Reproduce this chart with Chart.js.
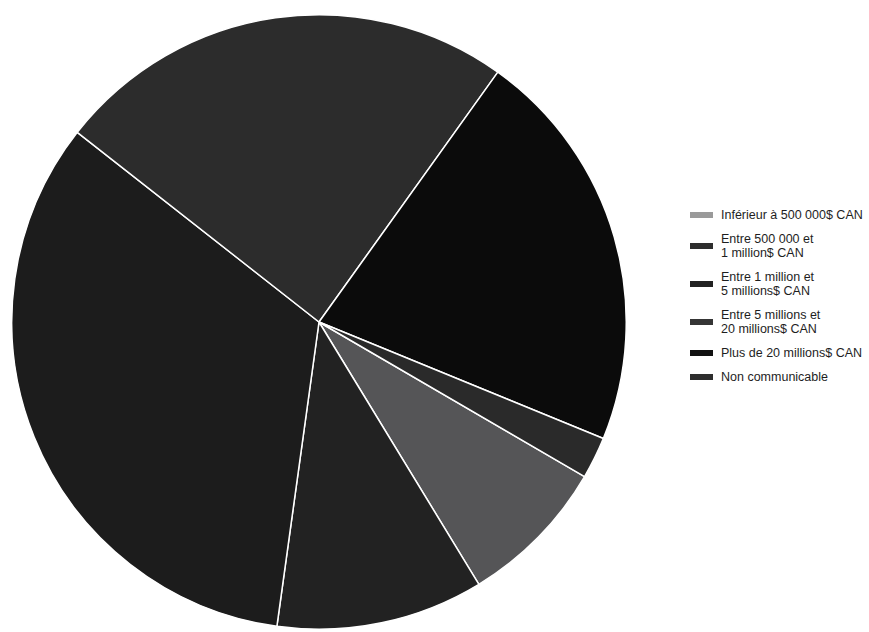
<!DOCTYPE html>
<html>
<head>
<meta charset="utf-8">
<script src="https://cdn.jsdelivr.net/npm/chart.js@4/dist/chart.umd.min.js"></script>
<style>
    html, body { margin: 0; padding: 0; background: #fff; }
    body { width: 869px; height: 632px; position: relative; overflow: hidden; font-family: "Liberation Sans", Arial, sans-serif; }
    #pieBox { position: absolute; left: 11px; top: 14px; width: 616px; height: 616px; }
    #legend { position: absolute; left: 690px; top: 208px; color: #1e1e1e; font-size: 12.5px; line-height: 14px; }
    .item { display: flex; align-items: center; margin-bottom: 10px; }
    .swatch { width: 23px; height: 6px; margin-right: 8px; flex: none; }
</style>
</head>
<body>
<div id="pieBox"><canvas id="pieChart"></canvas></div>
<div id="legend"></div>

<script>
// Categories (legend order, drawn clockwise)
const categories = [
    ['Inférieur à 500 000$ CAN'],
    ['Entre 500 000 et', '1 million$ CAN'],
    ['Entre 1 million et', '5 millions$ CAN'],
    ['Entre 5 millions et', '20 millions$ CAN'],
    ['Plus de 20 millions$ CAN'],
    ['Non communicable']
];
// Share of respondents (%)
const shares = [7.9, 10.9, 33.4, 24.3, 21.3, 2.2];
const sliceColors = ['#555557', '#222222', '#1c1c1c', '#2c2c2c', '#0b0b0b', '#2a2a2a'];
const legendColors = ['#9a9a9a', '#2e2e2e', '#222222', '#353535', '#111111', '#2e2e2e'];

document.addEventListener('DOMContentLoaded', () => {
    renderPie();
    renderLegend();
});

function renderPie() {
    const ctx = document.getElementById('pieChart').getContext('2d');
    new Chart(ctx, {
        type: 'pie',
        data: {
            labels: categories.map(c => c.join(' ')),
            datasets: [{
                data: shares,
                backgroundColor: sliceColors,
                borderColor: '#ffffff',
                borderWidth: 1.5
            }]
        },
        options: {
            responsive: true,
            maintainAspectRatio: false,
            animation: false,
            rotation: 120.2,
            layout: { padding: 0 },
            plugins: {
                legend: { display: false },
                tooltip: { enabled: false }
            }
        }
    });
}

function renderLegend() {
    const box = document.getElementById('legend');
    box.innerHTML = categories.map((lines, i) => `
        <div class="item">
            <span class="swatch" style="background:${legendColors[i]}"></span>
            <span>${lines.join('<br>')}</span>
        </div>`).join('');
}
</script>
</body>
</html>
